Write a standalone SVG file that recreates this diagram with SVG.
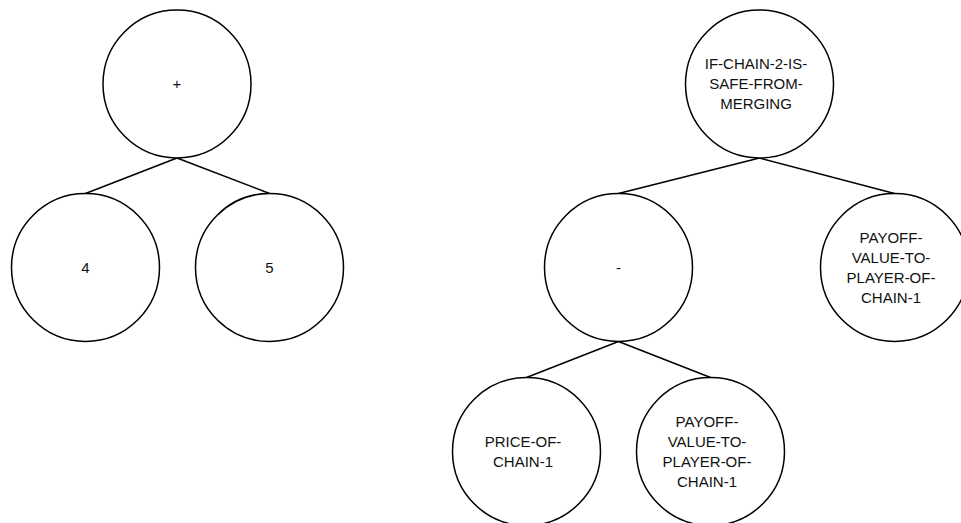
<svg xmlns="http://www.w3.org/2000/svg" width="961" height="523" viewBox="0 0 961 523">
<style>
.n{fill:#fff;stroke:#000;stroke-width:1.5}
.e{stroke:#000;stroke-width:1.5;fill:none}
.t{font-family:"Liberation Sans",Arial,sans-serif;font-size:15px;fill:#111;text-anchor:middle}
</style>
<rect width="961" height="523" fill="#fff"/>
<g id="connectors">
<line class="e" x1="177" y1="158" x2="85.5" y2="193.5"/>
<line class="e" x1="177" y1="158" x2="269.5" y2="193.5"/>
<line class="e" x1="759.5" y1="158" x2="618.5" y2="193.5"/>
<line class="e" x1="759.5" y1="158" x2="894.5" y2="193.5"/>
<line class="e" x1="618.5" y1="341.5" x2="526.5" y2="377.5"/>
<line class="e" x1="618.5" y1="341.5" x2="710.5" y2="377.5"/>
</g>
<g id="node-plus">
<circle class="n" cx="177" cy="84" r="74"/>
<text class="t" x="177" y="89">+</text>
</g>
<g id="node-4">
<circle class="n" cx="85.5" cy="267.5" r="74"/>
<text class="t" x="85.5" y="272.5">4</text>
</g>
<g id="node-5">
<circle class="n" cx="269.5" cy="267.5" r="74"/>
<text class="t" x="269.5" y="272.5">5</text>
</g>
<g id="node-if">
<circle class="n" cx="759.5" cy="84" r="74"/>
<text class="t" x="756" y="69">IF-CHAIN-2-IS-</text>
<text class="t" x="756" y="89">SAFE-FROM-</text>
<text class="t" x="756" y="109">MERGING</text>
</g>
<g id="node-minus">
<circle class="n" cx="618.5" cy="267.5" r="74"/>
<text class="t" x="618.5" y="272.5">-</text>
</g>
<g id="node-payoff-1">
<circle class="n" cx="894.5" cy="267.5" r="74"/>
<text class="t" x="891" y="242.5">PAYOFF-</text>
<text class="t" x="891" y="262.5">VALUE-TO-</text>
<text class="t" x="891" y="282.5">PLAYER-OF-</text>
<text class="t" x="891" y="302.5">CHAIN-1</text>
</g>
<g id="node-price">
<circle class="n" cx="526.5" cy="451.5" r="74"/>
<text class="t" x="523" y="446.5">PRICE-OF-</text>
<text class="t" x="523" y="466.5">CHAIN-1</text>
</g>
<g id="node-payoff-2">
<circle class="n" cx="710.5" cy="451.5" r="74"/>
<text class="t" x="707" y="426.5">PAYOFF-</text>
<text class="t" x="707" y="446.5">VALUE-TO-</text>
<text class="t" x="707" y="466.5">PLAYER-OF-</text>
<text class="t" x="707" y="486.5">CHAIN-1</text>
</g>
</svg>
